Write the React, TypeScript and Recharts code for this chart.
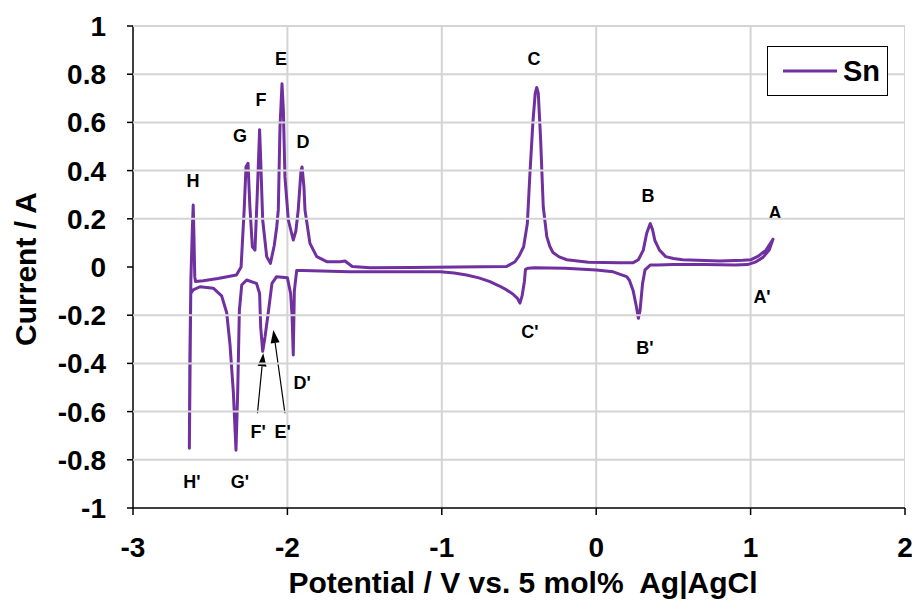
import React from 'react';
import { LineChart, Line, XAxis, YAxis, ReferenceDot, ReferenceLine, Legend } from 'recharts';

const FONT = '"Liberation Sans", Arial, sans-serif';
const PURPLE = '#7030A0';
const GRID = '#d4d4d4';
const PLOT_W = 772;

// cathodic sweep, from the positive vertex (A) down to H'  [potential V, current A]
const cathodicScan: [number, number][] = [
  [1.145, 0.115], [1.12, 0.07], [1.08, 0.04], [1.03, 0.02], [0.98, 0.01],
  [0.9, 0.008], [0.7, 0.01], [0.5, 0.01], [0.4, 0.008], [0.35, 0.008],
  [0.316, -0.012], [0.3, -0.07], [0.284, -0.18], [0.273, -0.213], [0.262, -0.17],
  [0.24, -0.1], [0.215, -0.055], [0.197, -0.04], [0.11, -0.02], [0.0, -0.012],
  [-0.2, -0.005], [-0.4, -0.003], [-0.44, -0.005], [-0.458, -0.01], [-0.465, -0.06],
  [-0.48, -0.12], [-0.494, -0.15], [-0.51, -0.13], [-0.54, -0.112], [-0.58, -0.095],
  [-0.63, -0.078], [-0.688, -0.061], [-0.76, -0.045], [-0.84, -0.033], [-0.92, -0.025],
  [-1.01, -0.02], [-1.3, -0.02], [-1.6, -0.02], [-1.9, -0.015], [-1.94, -0.015],
  [-1.955, -0.1], [-1.962, -0.365], [-1.97, -0.2], [-1.979, -0.11], [-2.0, -0.045],
  [-2.07, -0.04], [-2.1, -0.068], [-2.124, -0.19], [-2.145, -0.29], [-2.16, -0.35],
  [-2.173, -0.25], [-2.18, -0.11], [-2.2, -0.068], [-2.264, -0.054], [-2.296, -0.075],
  [-2.311, -0.18], [-2.322, -0.52], [-2.333, -0.76], [-2.35, -0.52], [-2.372, -0.32],
  [-2.393, -0.19], [-2.426, -0.12], [-2.48, -0.088], [-2.566, -0.082], [-2.61, -0.095],
  [-2.626, -0.11], [-2.635, -0.752],
];

// anodic sweep, from H' back up to A
const anodicScan: [number, number][] = [
  [-2.635, -0.752], [-2.632, -0.4], [-2.625, -0.05], [-2.616, 0.15], [-2.61, 0.257],
  [-2.605, 0.12], [-2.6, -0.04], [-2.595, -0.06], [-2.545, -0.057], [-2.45, -0.048],
  [-2.33, -0.033], [-2.3, 0.0], [-2.28, 0.237], [-2.268, 0.416], [-2.255, 0.43],
  [-2.243, 0.25], [-2.227, 0.084], [-2.21, 0.07], [-2.195, 0.305], [-2.18, 0.57],
  [-2.173, 0.444], [-2.16, 0.195], [-2.134, 0.043], [-2.11, 0.015], [-2.085, 0.09],
  [-2.069, 0.167], [-2.059, 0.237], [-2.048, 0.58], [-2.035, 0.76], [-2.026, 0.65],
  [-2.016, 0.375], [-1.994, 0.195], [-1.962, 0.112], [-1.945, 0.15], [-1.93, 0.236],
  [-1.912, 0.4], [-1.905, 0.415], [-1.893, 0.333], [-1.886, 0.236], [-1.854, 0.098],
  [-1.81, 0.043], [-1.745, 0.022], [-1.66, 0.022], [-1.627, 0.025], [-1.58, 0.002],
  [-1.465, -0.003], [-1.2, -0.002], [-0.9, 0.0], [-0.58, 0.002], [-0.526, 0.022],
  [-0.5, 0.045], [-0.47, 0.084], [-0.446, 0.18], [-0.429, 0.39], [-0.41, 0.6],
  [-0.395, 0.72], [-0.385, 0.745], [-0.375, 0.72], [-0.36, 0.53], [-0.343, 0.25],
  [-0.32, 0.126], [-0.3, 0.085], [-0.28, 0.06], [-0.24, 0.042], [-0.19, 0.03],
  [-0.05, 0.02], [0.15, 0.018], [0.24, 0.018], [0.273, 0.03], [0.305, 0.07],
  [0.327, 0.14], [0.35, 0.18], [0.365, 0.155], [0.38, 0.11], [0.41, 0.07],
  [0.45, 0.043], [0.5, 0.035], [0.56, 0.03], [0.8, 0.025], [0.95, 0.028],
  [1.0, 0.03], [1.05, 0.045], [1.1, 0.07], [1.145, 0.115],
];

const xTicks = [-3, -2, -1, 0, 1, 2];
const yTicks = [-1, -0.8, -0.6, -0.4, -0.2, 0, 0.2, 0.4, 0.6, 0.8, 1];

const peakLabels = [
  { text: 'H', x: -2.611, y: 0.357 },
  { text: 'G', x: -2.307, y: 0.545 },
  { text: 'F', x: -2.171, y: 0.695 },
  { text: 'E', x: -2.041, y: 0.865 },
  { text: 'D', x: -1.899, y: 0.52 },
  { text: 'C', x: -0.403, y: 0.865 },
  { text: 'B', x: 0.335, y: 0.295 },
  { text: 'A', x: 1.158, y: 0.224 },
  { text: "H'", x: -2.618, y: -0.892 },
  { text: "G'", x: -2.307, y: -0.892 },
  { text: "F'", x: -2.19, y: -0.685 },
  { text: "E'", x: -2.03, y: -0.685 },
  { text: "D'", x: -1.905, y: -0.48 },
  { text: "C'", x: -0.429, y: -0.27 },
  { text: "B'", x: 0.316, y: -0.336 },
  { text: "A'", x: 1.074, y: -0.124 },
];

const arrows = [
  { from: { x: -2.194, y: -0.607 }, to: { x: -2.156, y: -0.358 } },
  { from: { x: -2.016, y: -0.607 }, to: { x: -2.091, y: -0.261 } },
];

const cvData = [...cathodicScan, ...anodicScan.slice(1)].map(([x, y]) => ({ x, y }));

const xMin = xTicks[0];
const xMax = xTicks[xTicks.length - 1];
const yMin = yTicks[0];
const yMax = yTicks[yTicks.length - 1];
const vGrid = xTicks.slice(1).map((t) => [{ x: t, y: yMin }, { x: t, y: yMax }]);

// y tick: label plus the horizontal grid line running across the plot
const YTick = (props: any) => {
  const { x, y, payload } = props;
  const left = x + 27;
  const v = payload.value;
  return (
    <g>
      {v !== yMin && v !== 0 && (
        <line x1={left} y1={y} x2={left + PLOT_W} y2={y} stroke={GRID} strokeWidth={2} />
      )}
      <text x={x} y={y} dy="0.355em" textAnchor="end" fontSize={28} fontWeight="bold"
        fill="#000" fontFamily={FONT}>
        {String(v)}
      </text>
    </g>
  );
};

const ArrowShape = (props: any) => {
  const { x1, y1, x2, y2 } = props;
  const dx = x2 - x1;
  const dy = y2 - y1;
  const len = Math.sqrt(dx * dx + dy * dy);
  const ux = dx / len;
  const uy = dy / len;
  const head = 13;
  const half = 4.5;
  const bx = x2 - ux * head;
  const by = y2 - uy * head;
  const pts = `${x2},${y2} ${bx - uy * half},${by + ux * half} ${bx + uy * half},${by - ux * half}`;
  return (
    <g>
      <line x1={x1} y1={y1} x2={bx} y2={by} stroke="#000" strokeWidth={1.2} />
      <polygon points={pts} fill="#000" />
    </g>
  );
};

const YTitle = (props: any) => {
  const vb = props.viewBox || { x: 0, y: 26, width: 133, height: 482 };
  const cx = vb.x + 36;
  const cy = vb.y + vb.height / 2 + 2;
  return (
    <text x={cx} y={cy} transform={`rotate(-90, ${cx}, ${cy})`} textAnchor="middle"
      fontSize={30} fontWeight="bold" fill="#000" fontFamily={FONT}>
      Current / A
    </text>
  );
};

const XTitle = (props: any) => {
  const vb = props.viewBox || { x: 133, y: 508, width: 772, height: 96 };
  return (
    <text x={vb.x + vb.width / 2 + 4} y={vb.y + 85} textAnchor="middle" fontSize={30}
      fontWeight="bold" fill="#000" fontFamily={FONT} style={{ whiteSpace: 'pre' }}>
      {'Potential / V vs. 5 mol%  Ag|AgCl'}
    </text>
  );
};

const LegendBox = () => (
  <div style={{
    width: 121, height: 50, boxSizing: 'border-box', border: '1.5px solid #000',
    background: '#fff', display: 'flex', alignItems: 'center', fontFamily: FONT,
  }}>
    <svg width={70} height={10}>
      <line x1={15} y1={5} x2={69} y2={5} stroke={PURPLE} strokeWidth={3} />
    </svg>
    <span style={{ fontSize: 29, fontWeight: 'bold', marginLeft: 5, lineHeight: '29px' }}>Sn</span>
  </div>
);

export default function App() {
  return (
    <div style={{ position: 'absolute', left: 0, top: 0, width: 912, height: 604, background: '#fff' }}>
      <LineChart width={912} height={604} data={cvData}
        margin={{ top: 26, right: 7, bottom: 0, left: 0 }} style={{ fontFamily: FONT }}>
        <XAxis dataKey="x" type="number" domain={[xMin, xMax]} ticks={xTicks} allowDataOverflow
          height={96} tickSize={7} tickMargin={22}
          axisLine={{ stroke: '#000', strokeWidth: 1.5 }} tickLine={{ stroke: '#000', strokeWidth: 1.5 }}
          tick={{ fontSize: 28, fontWeight: 'bold', fill: '#000' }}
          label={<XTitle />} />
        <YAxis type="number" domain={[yMin, yMax]} ticks={yTicks} allowDataOverflow
          width={133} tickSize={6} tickMargin={21}
          axisLine={{ stroke: '#000', strokeWidth: 1.5 }} tickLine={{ stroke: '#000', strokeWidth: 1.5 }}
          tick={<YTick />}
          label={<YTitle />} />
        {vGrid.map((d, i) => (
          <Line key={`vg-${i}`} data={d} dataKey="y" type="linear" stroke={GRID} strokeWidth={2}
            dot={false} activeDot={false} isAnimationActive={false} legendType="none" />
        ))}
        <Legend layout="horizontal" verticalAlign="middle" align="center" content={() => <LegendBox />}
          wrapperStyle={{ position: 'absolute', left: 767, top: 46, width: 121, height: 50 }} />
        <Line dataKey="y" type="linear" stroke={PURPLE} strokeWidth={3} dot={false}
          isAnimationActive={false} strokeLinejoin="round" strokeLinecap="round" />
        {arrows.map((a, i) => (
          <ReferenceLine key={`arrow-${i}`} segment={[a.from, a.to]} shape={ArrowShape} ifOverflow="visible" />
        ))}
        {peakLabels.map((p) => (
          <ReferenceDot key={p.text} x={p.x} y={p.y} r={0} ifOverflow="visible"
            shape={(s: any) => (
              <text x={s.cx} y={s.cy} textAnchor="middle" dominantBaseline="central"
                fontSize={18} fontWeight="bold" fill="#000" fontFamily={FONT}>
                {p.text}
              </text>
            )} />
        ))}
      </LineChart>
    </div>
  );
}
